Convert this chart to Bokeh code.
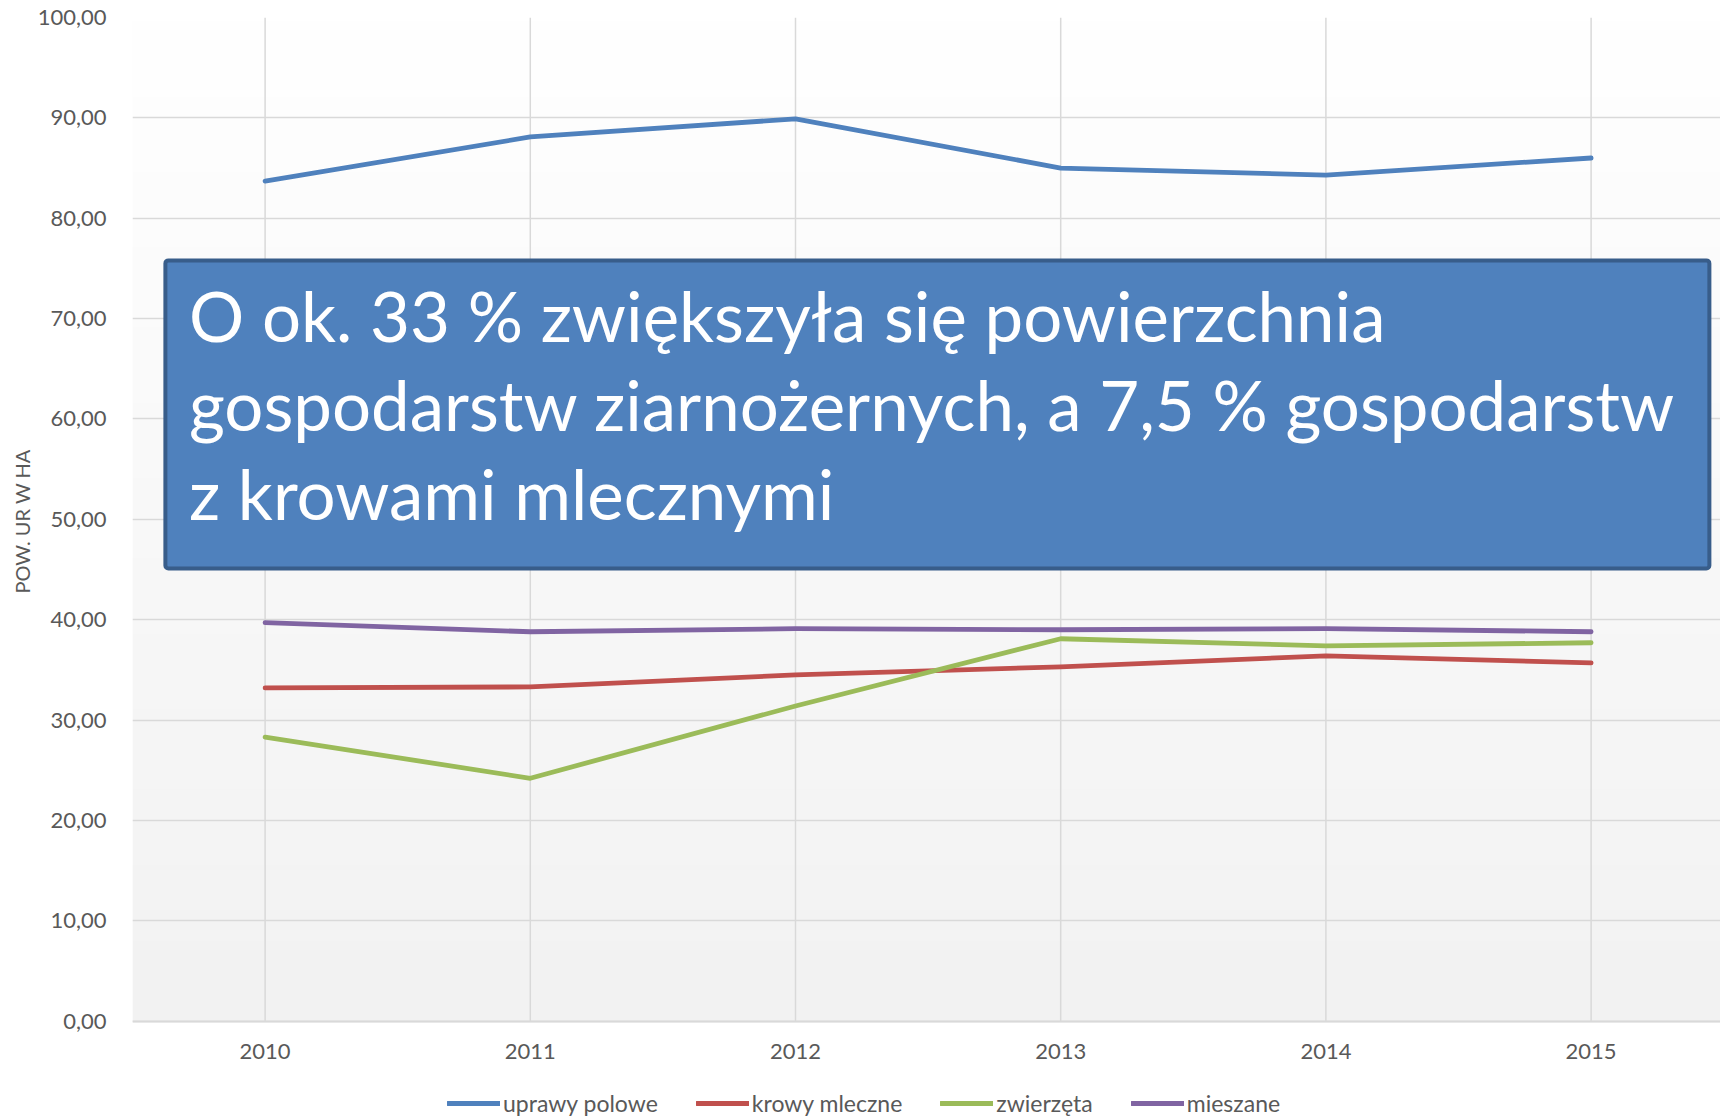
import numpy as np
from bokeh.plotting import figure
from bokeh.models import Range1d, FixedTicker, BoxAnnotation, Label, Legend, LegendItem, Title
from bokeh.embed import file_html
from bokeh.resources import INLINE

years = ["2010", "2011", "2012", "2013", "2014", "2015"]
uprawy_polowe = [83.7, 88.1, 89.9, 85.0, 84.3, 86.0]
krowy_mleczne = [33.2, 33.3, 34.5, 35.3, 36.4, 35.7]
zwierzeta = [28.3, 24.2, 31.4, 38.1, 37.4, 37.7]
mieszane = [39.7, 38.8, 39.1, 39.0, 39.1, 38.8]
series_names = ["uprawy polowe", "krowy mleczne", "zwierzęta", "mieszane"]
series_colors = ["#4f81bd", "#c0504d", "#9bbb59", "#8064a2"]
y_ticks = [0, 10, 20, 30, 40, 50, 60, 70, 80, 90, 100]
y_tick_labels = ["0,00", "10,00", "20,00", "30,00", "40,00", "50,00",
                 "60,00", "70,00", "80,00", "90,00", "100,00"]
y_title = "POW. UR W HA"
box_lines = ["O ok. 33 % zwiększyła się powierzchnia",
             "gospodarstw ziarnożernych, a 7,5 % gospodarstw",
             "z krowami mlecznymi"]

FONT = "Lato"
x = list(range(len(years)))
FRAME_W = 1588
x_end = -0.5 + FRAME_W / 265.2

# the frame reaches below 0 so that the legend can sit inside it
p = figure(frame_width=FRAME_W, frame_height=1100, output_backend="svg", toolbar_location=None,
           x_range=Range1d(-0.5, x_end), y_range=Range1d(-9.6, 100),
           min_border_left=132, min_border_right=0, min_border_top=17,
           min_border_bottom=0)
p.outline_line_color = None
p.background_fill_color = "white"
p.border_fill_color = "white"

# plot-area gradient (white at top to light grey at bottom)
n = 200
t = np.linspace(0, 1, n)  # 0 bottom -> 1 top
c0 = np.array([0xf2, 0xf2, 0xf2]); c1 = np.array([0xff, 0xff, 0xff])
img = np.empty((n, 1), dtype=np.uint32)
view = img.view(dtype=np.uint8).reshape((n, 1, 4))
for i in range(n):
    c = c0 + (c1 - c0) * t[i]
    view[i, 0, 0] = int(c[0]); view[i, 0, 1] = int(c[1]); view[i, 0, 2] = int(c[2]); view[i, 0, 3] = 255
p.image_rgba(image=[img], x=-0.5, y=y_ticks[0], dw=x_end + 0.5, dh=y_ticks[-1] - y_ticks[0], level="image")

# vertical category grid lines (only over the value area)
p.xgrid.visible = False
p.segment(x0=x, y0=[y_ticks[0]] * len(x), x1=x, y1=[y_ticks[-1]] * len(x),
          line_color="#d9d9d9", line_width=1.5, level="underlay")
p.ygrid.ticker = FixedTicker(ticks=y_ticks)
p.ygrid.grid_line_color = "#d9d9d9"
p.ygrid.grid_line_width = 1.5

# axes
p.xaxis.fixed_location = 0
p.xaxis.ticker = FixedTicker(ticks=x)
p.xaxis.major_label_overrides = {i: years[i] for i in x}
p.yaxis.ticker = FixedTicker(ticks=y_ticks)
p.yaxis.major_label_overrides = {v: l for v, l in zip(y_ticks, y_tick_labels)}
for ax in (p.xaxis, p.yaxis):
    ax.major_tick_line_color = None
    ax.minor_tick_line_color = None
    ax.major_label_text_font = FONT
    ax.major_label_text_font_size = "22px"
    ax.major_label_text_color = "#595959"
p.yaxis.axis_line_color = None
p.xaxis.axis_line_color = "#d9d9d9"
p.xaxis.axis_line_width = 2
p.xaxis.major_label_standoff = 17
p.yaxis.major_label_standoff = 20

p.add_layout(Title(text=y_title, align="left", offset=524, standoff=2,
                   text_font=FONT, text_font_size="20px", text_font_style="normal",
                   text_color="#595959"), "left")

renderers = []
for vals, col in zip([uprawy_polowe, krowy_mleczne, zwierzeta, mieszane], series_colors):
    r = p.line(x, vals, line_color=col, line_width=4.8, line_cap="round", line_join="round")
    renderers.append(r)

legend = Legend(items=[LegendItem(label=nm, renderers=[r]) for nm, r in zip(series_names, renderers)],
                location=(315, 0), orientation="horizontal", padding=0, margin=0, spacing=38,
                glyph_width=53, glyph_height=24, label_standoff=3,
                label_text_font=FONT, label_text_font_size="23px",
                label_text_color="#595959", background_fill_alpha=0,
                border_line_color=None, label_height=24)
p.add_layout(legend, "center")

# annotation box
box = BoxAnnotation(left=-0.376, right=5.446, top=75.8, bottom=45.1,
                    fill_color="#4f81bd", fill_alpha=1.0,
                    line_color="#385d8a", line_width=4, line_alpha=1.0,
                    border_radius=3, level="annotation")
p.add_layout(box)
for txt, yy in zip(box_lines, [70.35, 61.45, 52.55]):
    p.add_layout(Label(x=-0.287, y=yy, text=txt, text_color="white",
                       text_font=FONT, text_font_size="69px",
                       text_baseline="alphabetic", text_align="left",
                       level="annotation"))

open("out.html", "w").write(file_html(p, INLINE))
